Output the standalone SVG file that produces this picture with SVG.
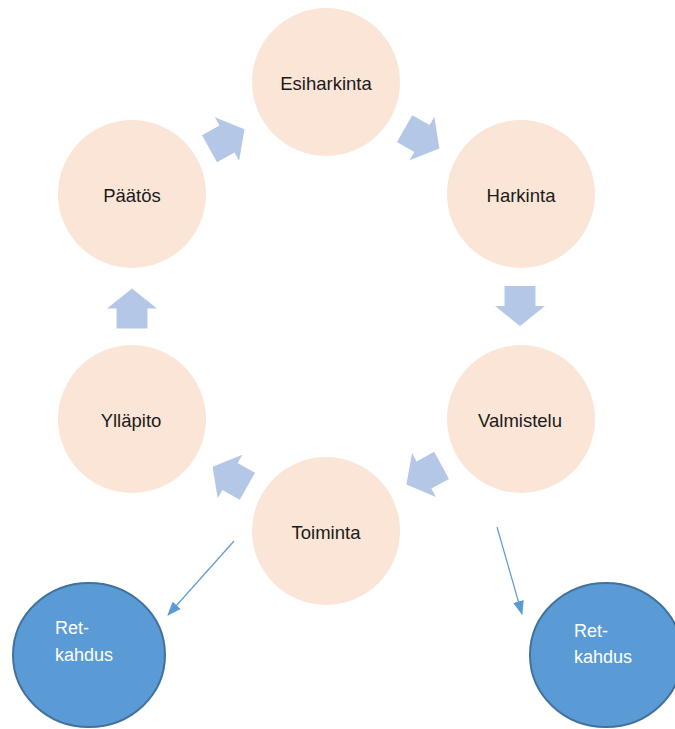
<svg xmlns="http://www.w3.org/2000/svg" width="675" height="729" viewBox="0 0 675 729">
<style>
.stage{fill:#FBE5D6;}
.lbl{font-family:"Liberation Sans",Arial,sans-serif;font-size:18.5px;fill:#1a1a1a;text-anchor:middle;}
.relapse{fill:#5B9BD5;stroke:#41719C;stroke-width:2;}
.rlbl{font-family:"Liberation Sans",Arial,sans-serif;font-size:18px;fill:#ffffff;}
.blk{fill:#B4C7E7;}
.conn{stroke:#5B9BD5;stroke-width:1.2;fill:none;marker-end:url(#ah);}
</style>
<defs>
<marker id="ah" markerWidth="14" markerHeight="12" refX="13" refY="6" orient="auto" markerUnits="userSpaceOnUse">
<path d="M0,0.5 L14,6 L0,11.5 Z" fill="#5B9BD5"/>
</marker>
<path id="blockArrow" d="M-20,-15.5 L0,-15.5 L0,-25 L20,0 L0,25 L0,15.5 L-20,15.5 Z"/>
</defs>
<rect width="675" height="729" fill="#ffffff"/>
<g id="esiharkinta"><circle class="stage" cx="326" cy="82" r="74"/><text class="lbl" x="326" y="90">Esiharkinta</text></g>
<g id="harkinta"><circle class="stage" cx="521" cy="194" r="74"/><text class="lbl" x="521" y="202">Harkinta</text></g>
<g id="valmistelu"><circle class="stage" cx="521" cy="419" r="74"/><text class="lbl" x="520" y="427">Valmistelu</text></g>
<g id="toiminta"><circle class="stage" cx="326" cy="531" r="74"/><text class="lbl" x="326" y="539">Toiminta</text></g>
<g id="yllapito"><circle class="stage" cx="132" cy="419" r="74"/><text class="lbl" x="131" y="427">Ylläpito</text></g>
<g id="paatos"><circle class="stage" cx="132" cy="194" r="74"/><text class="lbl" x="132" y="202">Päätös</text></g>
<g id="retkahdus-left"><ellipse class="relapse" cx="89" cy="655" rx="76" ry="72"/><text class="rlbl" x="55" y="634">Ret-</text><text class="rlbl" x="55" y="661">kahdus</text></g>
<g id="retkahdus-right"><ellipse class="relapse" cx="606" cy="655" rx="76" ry="72"/><text class="rlbl" x="574" y="637">Ret-</text><text class="rlbl" x="574" y="663">kahdus</text></g>
<g id="connectors">
<use href="#blockArrow" class="blk" transform="translate(227,139) rotate(-29)"/>
<use href="#blockArrow" class="blk" transform="translate(422,138.5) rotate(29.6)"/>
<use href="#blockArrow" class="blk" transform="translate(520,306) rotate(90)"/>
<use href="#blockArrow" class="blk" transform="translate(424,475) rotate(151.5)"/>
<use href="#blockArrow" class="blk" transform="translate(230,476.5) rotate(-150.5)"/>
<use href="#blockArrow" class="blk" transform="translate(132,308.5) rotate(-90)"/>
<line class="conn" x1="234" y1="541" x2="168" y2="615"/>
<line class="conn" x1="497" y1="527" x2="522" y2="614"/>
</g>
</svg>
